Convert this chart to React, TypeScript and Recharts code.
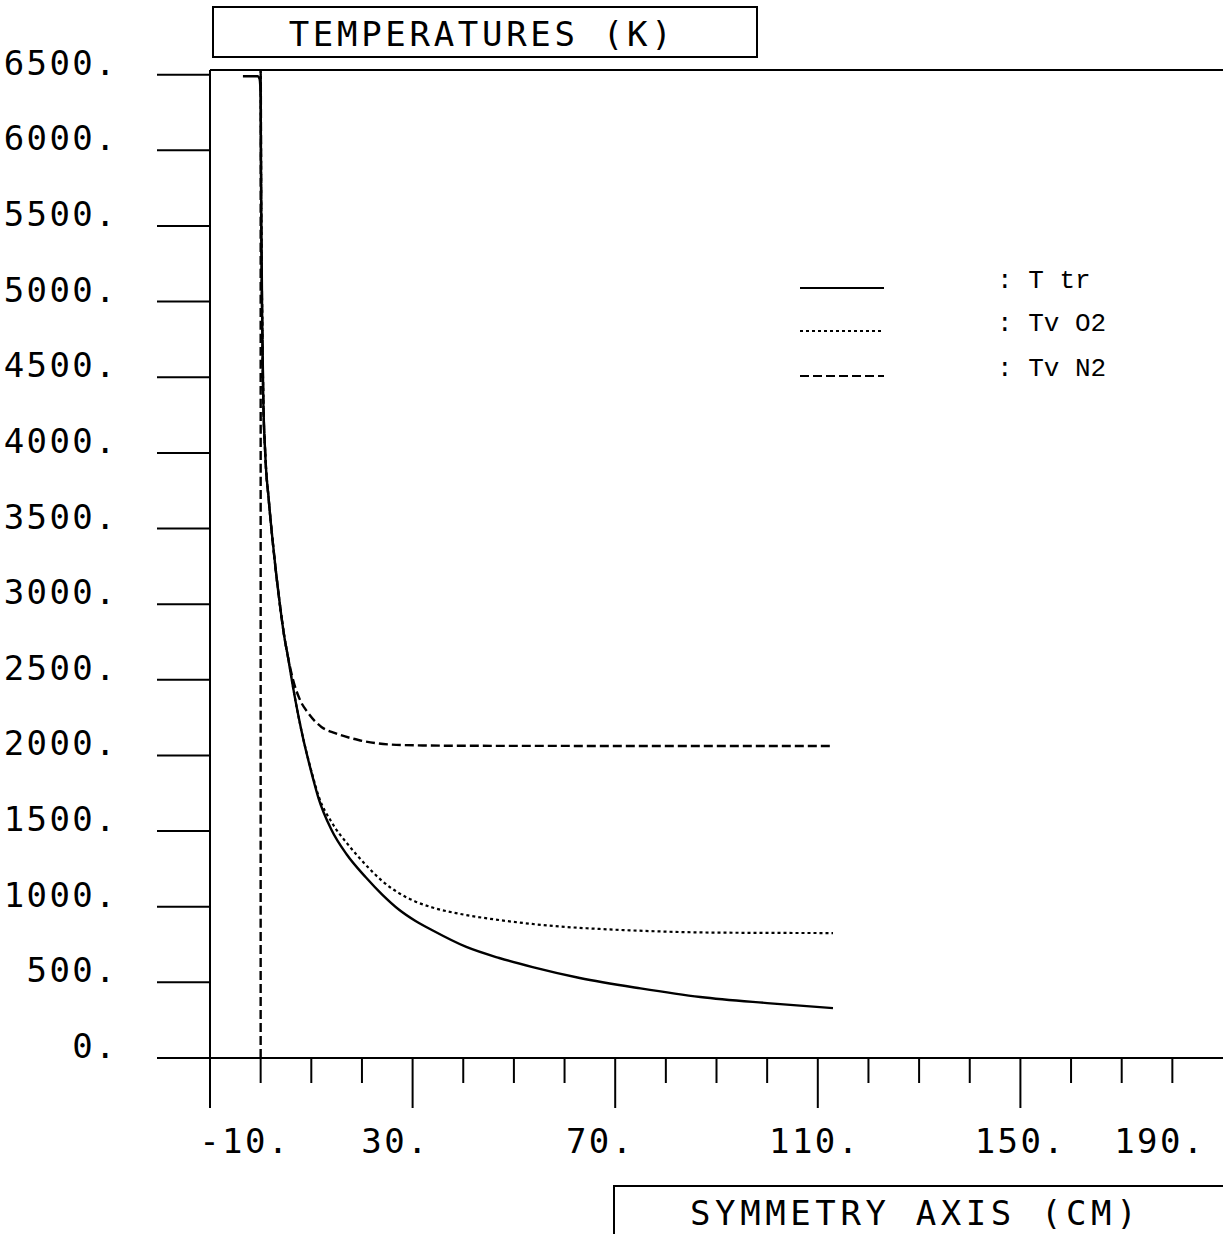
import { LineChart, Line, XAxis, YAxis, ReferenceLine, Legend } from "recharts";

const W = 1223;
const H = 1234;

// axis ticks
const xTicks = [-10, 0, 10, 20, 30, 40, 50, 60, 70, 80, 90, 100, 110, 120, 130, 140, 150, 160, 170, 180, 190];
const yTicks = [0, 500, 1000, 1500, 2000, 2500, 3000, 3500, 4000, 4500, 5000, 5500, 6000, 6500];

// T tr (translational temperature)
const trX = [-3.5, -0.6, -0.2, 0, 0.1, 0.3, 0.5, 0.9, 1.6, 2.3, 3.1, 3.9, 4.6, 5.4, 6.4, 7.4, 8.4, 9.4, 10.4, 11.4, 14.0, 17.0, 20.8, 24.0, 27.4, 30.5, 33.8, 40.6, 47.1, 53.7, 63.0, 75.0, 86.8, 100.0, 113.0];
const trT = [6490, 6490, 6470, 6350, 5700, 4900, 4400, 4000, 3690, 3440, 3190, 2970, 2800, 2650, 2450, 2270, 2110, 1970, 1840, 1720, 1507, 1345, 1193, 1080, 978, 907, 846, 734, 661, 601, 529, 460, 403, 363, 330];

// Tv O2
const o2X = [0.01, 0.1, 0.3, 0.5, 0.9, 1.6, 2.3, 3.1, 3.9, 4.6, 5.4, 6.4, 7.4, 8.4, 9.4, 10.4, 11.4, 14.0, 17.4, 20.8, 24.0, 27.3, 30.5, 33.9, 40.6, 47.1, 53.6, 60.4, 66.9, 76.0, 86.8, 100.0, 113.0];
const o2T = [6531, 5700, 4900, 4400, 4000, 3690, 3440, 3190, 2970, 2800, 2650, 2450, 2270, 2112, 1975, 1850, 1735, 1560, 1405, 1275, 1170, 1090, 1035, 995, 945, 912, 886, 866, 853, 840, 830, 827, 826];

// Tv N2
const n2X = [0, 0.01, 0.1, 0.3, 0.5, 0.9, 1.6, 2.3, 3.1, 3.9, 4.6, 5.4, 6.4, 7.8, 9.4, 12.0, 14.7, 19.3, 25.8, 32.0, 40.0, 60.0, 80.0, 113.0];
const n2T = [0, 6531, 5700, 4900, 4400, 4000, 3690, 3440, 3190, 2970, 2800, 2650, 2500, 2365, 2280, 2188, 2148, 2102, 2072, 2066, 2064, 2063, 2062, 2062];

const toPoints = (xs: number[], ts: number[]) => xs.map((x, i) => ({ x, t: ts[i] }));

const dashes: Record<string, string | undefined> = {
  "T tr": undefined,
  "Tv O2": "3 3",
  "Tv N2": "9 4",
};
const legendRow: Record<string, number> = { "T tr": 28, "Tv O2": 71, "Tv N2": 116 };

const plotFont = {
  fontFamily: "'DejaVu Sans Mono', monospace",
  fontSize: 34,
  letterSpacing: 2.4,
} as const;

// nudges so the x labels sit where the plotter put them
const xLabelShift: Record<number, number> = { [-10]: 35, 30: -17, 70: -15, 110: -3, 150: 0, 190: -63 };

function XTick(props: any) {
  const { x, y, payload } = props;
  const v = payload.value as number;
  const major = (v + 10) % 40 === 0;
  return (
    <g>
      {x < W - 3 && (
        <line x1={x} x2={x} y1={y} y2={y + (major ? 50 : 25)} stroke="#000" strokeWidth={2} />
      )}
      {major && (
        <text x={x + (xLabelShift[v] ?? 0)} y={y + 95} textAnchor="middle" fill="#000" style={plotFont}>
          {`${v}.`}
        </text>
      )}
    </g>
  );
}

function YTick(props: any) {
  const { x, y, payload } = props;
  return (
    <text x={x} y={y} textAnchor="end" fill="#000" style={plotFont}>
      {`${payload.value}.`}
    </text>
  );
}

function renderLegend(props: any) {
  const payload = props.payload || [];
  return (
    <svg width={420} height={140}>
      {payload.map((entry: any) => {
        const yy = legendRow[entry.value] ?? 28;
        return (
          <g key={entry.value}>
            <line x1={10} x2={94} y1={yy} y2={yy} stroke="#000" strokeWidth={2} strokeDasharray={dashes[entry.value]} />
            <text x={207} y={yy} fill="#000" style={{ fontFamily: "'Liberation Mono', monospace", fontSize: 26, whiteSpace: "pre" }}>
              {`: ${entry.value}`}
            </text>
          </g>
        );
      })}
    </svg>
  );
}

export default function App() {
  return (
    <div style={{ position: "absolute", left: 0, top: 0, width: W, height: H, overflow: "hidden", background: "#fff" }}>
      <LineChart width={W} height={H} margin={{ top: 70, right: 0, bottom: 0, left: 0 }}>
        <XAxis
          type="number"
          dataKey="x"
          domain={[-10, 190]}
          ticks={xTicks}
          interval={0}
          allowDataOverflow
          height={176}
          axisLine={{ stroke: "#000", strokeWidth: 2 }}
          tickLine={false}
          tickSize={0}
          tickMargin={0}
          tick={<XTick />}
        />
        <YAxis
          type="number"
          dataKey="t"
          domain={[0, 6531]}
          ticks={yTicks}
          interval={0}
          allowDataOverflow
          width={210}
          axisLine={{ stroke: "#000", strokeWidth: 2 }}
          tickLine={{ stroke: "#000", strokeWidth: 2 }}
          tickSize={53}
          tickMargin={39}
          tick={<YTick />}
        />
        <ReferenceLine y={6531} stroke="#000" strokeWidth={2} />
        <Legend
          layout="vertical"
          align="center"
          verticalAlign="middle"
          content={renderLegend}
          wrapperStyle={{ position: "absolute", left: 790, top: 260, width: 420, height: 140 }}
        />
        <Line
          name="T tr"
          data={toPoints(trX, trT)}
          dataKey="t"
          type="monotoneX"
          stroke="#000"
          strokeWidth={2.4}
          dot={false}
          isAnimationActive={false}
        />
        <Line
          name="Tv O2"
          data={toPoints(o2X, o2T)}
          dataKey="t"
          type="monotoneX"
          stroke="#000"
          strokeWidth={2.2}
          strokeDasharray={dashes["Tv O2"]}
          dot={false}
          isAnimationActive={false}
        />
        <Line
          name="Tv N2"
          data={toPoints(n2X, n2T)}
          dataKey="t"
          type="monotoneX"
          stroke="#000"
          strokeWidth={2.4}
          strokeDasharray={dashes["Tv N2"]}
          dot={false}
          isAnimationActive={false}
        />
      </LineChart>
      <svg width={W} height={H} style={{ position: "absolute", left: 0, top: 0, pointerEvents: "none" }}>
        <rect x={213} y={7} width={544} height={50} fill="none" stroke="#000" strokeWidth={2} />
        <text x={482} y={46} textAnchor="middle" fill="#000" style={{ ...plotFont, letterSpacing: 3.7 }}>
          TEMPERATURES (K)
        </text>
        <rect x={614} y={1186} width={700} height={100} fill="none" stroke="#000" strokeWidth={2} />
        <text x={690} y={1225} fill="#000" style={{ ...plotFont, letterSpacing: 4.6 }}>
          SYMMETRY AXIS (CM)
        </text>
      </svg>
    </div>
  );
}
